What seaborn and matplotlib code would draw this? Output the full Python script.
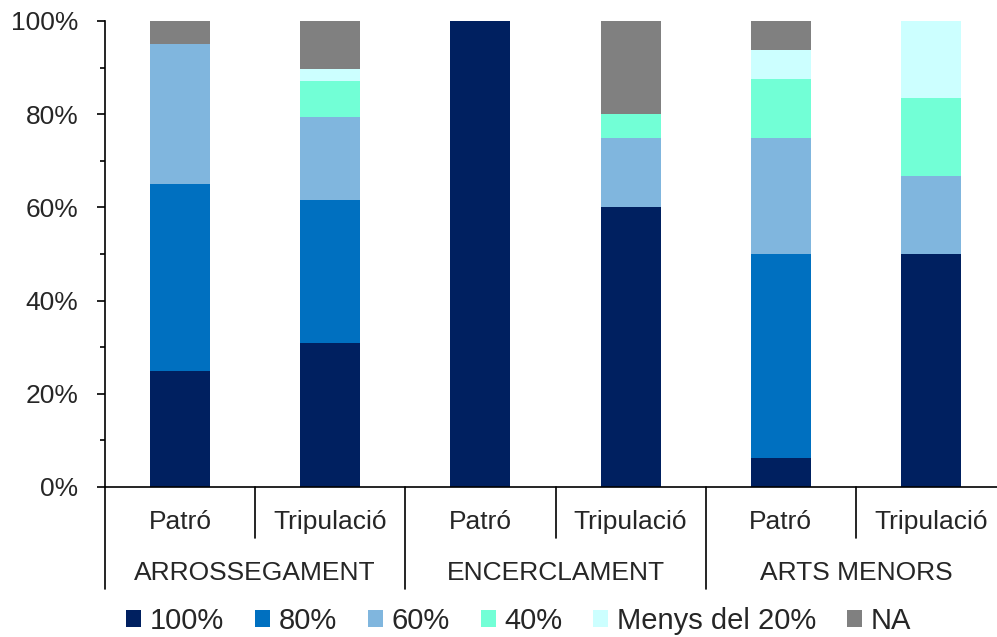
import numpy as np
import pandas as pd
import seaborn as sns
import matplotlib.pyplot as plt
import matplotlib.ticker as mtick
from matplotlib.patches import Patch

sns.set_style("white")
plt.rcParams['font.family'] = ['Liberation Sans', 'DejaVu Sans']

groups = ['ARROSSEGAMENT', 'ENCERCLAMENT', 'ARTS MENORS']
roles = ['Patró', 'Tripulació']
levels = ['100%', '80%', '60%', '40%', 'Menys del 20%', 'NA']
colors = ['#002060', '#0070C0', '#80B6DE', '#72FFD6', '#CCFFFF', '#808080']

# shares per bar (Patró/Tripulació for each gear), in %
v100 = [25.0, 30.8, 100.0, 60.0, 6.25, 50.0]
v80 = [40.0, 30.8, 0.0, 0.0, 43.75, 0.0]
v60 = [30.0, 17.9, 0.0, 15.0, 25.0, 16.7]
v40 = [0.0, 7.7, 0.0, 5.0, 12.5, 16.7]
vmenys = [0.0, 2.6, 0.0, 0.0, 6.25, 16.6]
vna = [5.0, 10.2, 0.0, 20.0, 6.25, 0.0]

series = [v100, v80, v60, v40, vmenys, vna]
bars = [f'{g}|{r}' for g in groups for r in roles]

fig = plt.figure(figsize=(9.97, 6.37), dpi=100)
ax = fig.add_axes([105 / 997, 150 / 637, 901 / 997, 466 / 637])

bottom = np.zeros(len(bars))
for name, vals, col in zip(levels, series, colors):
    df = pd.DataFrame({'bar': bars, 'val': vals})
    sns.barplot(data=df, x='bar', y='val', order=bars, bottom=bottom,
                color=col, width=0.4, linewidth=0, errorbar=None,
                saturation=1, ax=ax)
    bottom = bottom + np.array(vals)

ax.set_xlim(-0.5, len(bars) - 0.5)
ax.set_ylim(0, 100)
ax.set_xlabel('')
ax.set_ylabel('')
ax.set_xticks([])
ax.yaxis.set_major_locator(mtick.MultipleLocator(20))
ax.yaxis.set_minor_locator(mtick.MultipleLocator(10))
ax.yaxis.set_major_formatter(mtick.PercentFormatter(decimals=0))
ax.tick_params(axis='y', which='major', length=6, width=1.2, pad=13,
               labelsize=19, left=True, color='black')
ax.tick_params(axis='y', which='minor', length=3.5, width=1.2, left=True,
               color='black')
sns.despine(ax=ax)
for s in ['left', 'bottom']:
    ax.spines[s].set_color('black')
    ax.spines[s].set_linewidth(1.2)

# two-level category axis
trans = ax.get_xaxis_transform()
for i, b in enumerate(bars):
    g, r = b.split('|')
    ax.text(i, -0.075, r, transform=trans, ha='center', va='center',
            fontsize=19)
for j, g in enumerate(groups):
    ax.text(2 * j + 0.5, -0.185, g, transform=trans, ha='center',
            va='center', fontsize=19)
for k in range(len(bars) + 1):
    x = k - 0.5
    low = -0.219 if k % 2 == 0 else -0.109
    ax.plot([x, x], [0, low], transform=trans, color='black', lw=1.2,
            clip_on=False)

handles = [Patch(facecolor=c, edgecolor='none', label=l)
           for l, c in zip(levels, colors)]
fig.legend(handles=handles, loc='center', bbox_to_anchor=(0.52, 16 / 637),
           ncol=6, frameon=False, fontsize=21, handlelength=0.52,
           handleheight=0.52, handletextpad=0.28, columnspacing=1.07,
           borderpad=0)

fig.savefig('out.png', dpi=100)
